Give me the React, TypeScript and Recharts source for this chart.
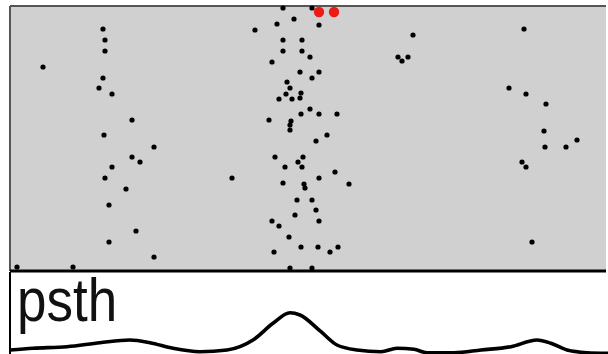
import { ScatterChart, Scatter, LineChart, Line, XAxis, YAxis, CartesianGrid, ReferenceLine } from "recharts";

// spike raster: time (ms from window start) and trial number
const spikeTime = [
  93, 95, 95, 33, 93, 89, 102, 122, 94, 144, 122, 130, 102, 95, 116, 99, 126, 99, 144, 7, 63,
  273, 302, 284, 267, 309, 245, 273, 292, 273, 292, 300, 262, 290, 309, 302, 277, 280, 276, 291,
  269, 282, 290, 300, 291, 309, 327, 259, 281, 280, 280, 317, 306, 265, 293, 288, 275, 292, 325,
  222, 309, 273, 294, 295, 339, 287, 302, 306, 285, 309, 262, 269, 279, 291, 308, 328, 264, 320,
  280, 302, 388, 392, 398, 403, 514, 499, 516, 536, 534, 567, 535, 556, 512, 516, 522,
];
const spikeTrial = [
  242, 231, 220, 204, 193, 183, 177, 151, 136, 124, 114, 109, 104, 93, 82, 66, 40, 29, 14, 4, 4,
  263, 263, 252, 247, 246, 241, 231, 231, 220, 220, 214, 209, 199, 199, 193, 189, 183, 177, 178,
  172, 172, 173, 162, 157, 157, 157, 151, 150, 146, 141, 136, 130, 114, 114, 109, 104, 104, 99,
  93, 93, 88, 87, 83, 87, 71, 71, 61, 56, 50, 50, 45, 34, 24, 24, 24, 19, 19,
  3, 3, 214, 210, 214, 236, 242, 183, 177, 167, 140, 131, 124, 124, 109, 104, 29,
];

// stimulus markers (red)
const stimTime = [309, 324];
const stimTrial = [259, 259];

// peri-stimulus time histogram
const psthTime = [0, 23, 57, 90, 120, 140, 163, 190, 217, 243, 263, 280, 290, 311, 327, 347, 371, 387, 404, 417, 444, 471, 501, 527, 541, 557, 577, 598];
const psthRate = [11, 12.7, 14.3, 18.3, 21, 18.3, 12.7, 9.3, 11, 21, 37.7, 48.3, 46, 29.3, 16, 11, 9.3, 12.7, 11.7, 8.3, 8.3, 11, 14.3, 21, 17.7, 11, 8.3, 7.7];

const spikes = spikeTime.map((t, i) => ({ t, trial: spikeTrial[i] }));
const stims = stimTime.map((t, i) => ({ t, trial: stimTrial[i] }));
const psth = psthTime.map((t, i) => ({ t, rate: psthRate[i] }));

const Dot = (p: any) => <circle cx={p.cx} cy={p.cy} r={2.6} fill="#000" />;
const RedDot = (p: any) => <circle cx={p.cx} cy={p.cy} r={5.2} fill="#ee1a14" />;

export default function App() {
  return (
    <div style={{ position: "absolute", left: 0, top: 0, width: 608, height: 354, overflow: "hidden", background: "#fff" }}>
      <div style={{ position: "absolute", left: 0, top: 271 }}>
        <LineChart width={608} height={90} data={psth} margin={{ top: 1, right: 0, bottom: 0, left: 10 }}>
          <XAxis type="number" dataKey="t" domain={[0, 598]} hide />
          <YAxis type="number" domain={[0, 89]} hide />
          <ReferenceLine x={0} stroke="#000" strokeWidth={2} />
          <Line type="monotone" dataKey="rate" stroke="#000" strokeWidth={3.6} dot={false} isAnimationActive={false} />
        </LineChart>
      </div>
      <div style={{ position: "absolute", left: 0, top: 0 }}>
        <ScatterChart width={608} height={273} margin={{ top: 6, right: 2, bottom: 2, left: 10 }}>
          <CartesianGrid fill="#d0d0d0" fillOpacity={1} horizontal={false} vertical={false} />
          <XAxis type="number" dataKey="t" domain={[0, 596]} hide />
          <YAxis type="number" dataKey="trial" domain={[0, 265]} hide />
          <Scatter data={spikes} shape={Dot} isAnimationActive={false} />
          <Scatter data={stims} shape={RedDot} isAnimationActive={false} />
          <ReferenceLine x={0} stroke="#555" strokeWidth={2} />
          <ReferenceLine y={265} stroke="#555" strokeWidth={2} />
          <ReferenceLine y={0} stroke="#000" strokeWidth={3} />
        </ScatterChart>
      </div>
      <svg width={608} height={354} style={{ position: "absolute", left: 0, top: 0, pointerEvents: "none" }}>
        <text
          transform="translate(17,321) scale(0.93,1.06)"
          fontSize={57}
          fontFamily="'Liberation Sans', Arial, sans-serif"
          fill="#111"
        >
          psth
        </text>
      </svg>
    </div>
  );
}
